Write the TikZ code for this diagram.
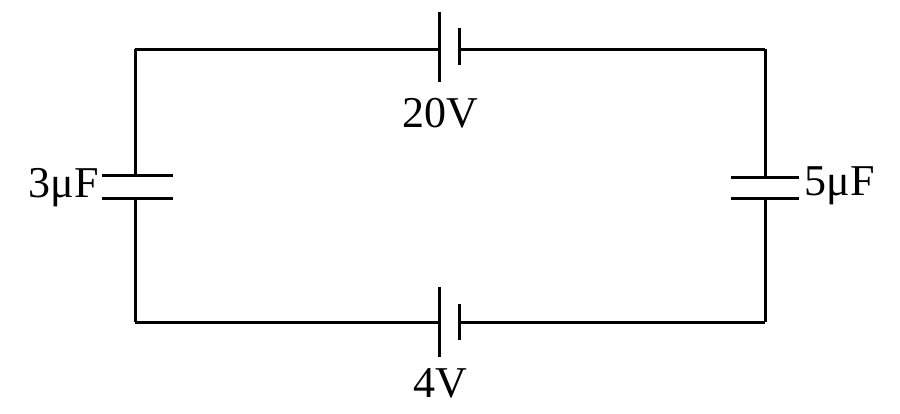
\documentclass[tikz,border=0pt]{standalone}
\usepackage{fontspec}
\setmainfont{Liberation Serif}
\begin{document}
\begin{tikzpicture}[x=1pt,y=-1pt,line width=3pt,
  lbl/.style={font=\fontsize{44}{48}\selectfont,inner sep=0pt}]
\useasboundingbox (0,0) rectangle (900,413);
% corners
\coordinate (tl) at (135,49); \coordinate (tr) at (765,49);
\coordinate (bl) at (135,322); \coordinate (br) at (765,322);
% top battery
\coordinate (t1) at (439,49); \coordinate (t2) at (459,49);
\draw (tl) -- (t1) (t2) -- (tr);
\draw (439,12) -- (439,82) (459,28) -- (459,65);
% bottom battery
\coordinate (b1) at (439,322); \coordinate (b2) at (459,322);
\draw (bl) -- (b1) (b2) -- (br);
\draw (439,287) -- (439,357) (459,304) -- (459,340);
% left capacitor
\coordinate (l1) at (135,175); \coordinate (l2) at (135,198);
\draw (tl) -- (l1) (l2) -- (bl);
\draw (102,175) -- (173,175) (102,198) -- (173,198);
% right capacitor
\coordinate (r1) at (765,177); \coordinate (r2) at (765,198);
\draw (tr) -- (r1) (r2) -- (br);
\draw (731,177) -- (799,177) (731,198) -- (799,198);
% labels
\node[lbl] (v20) at (440,113) {20V};
\node[lbl] (v4) at (440,383) {4V};
\node[lbl,anchor=east] (c3) at (100,188) {3μF};
\node[lbl,anchor=west] (c5) at (803,186) {5μF};
\end{tikzpicture}
\end{document}
